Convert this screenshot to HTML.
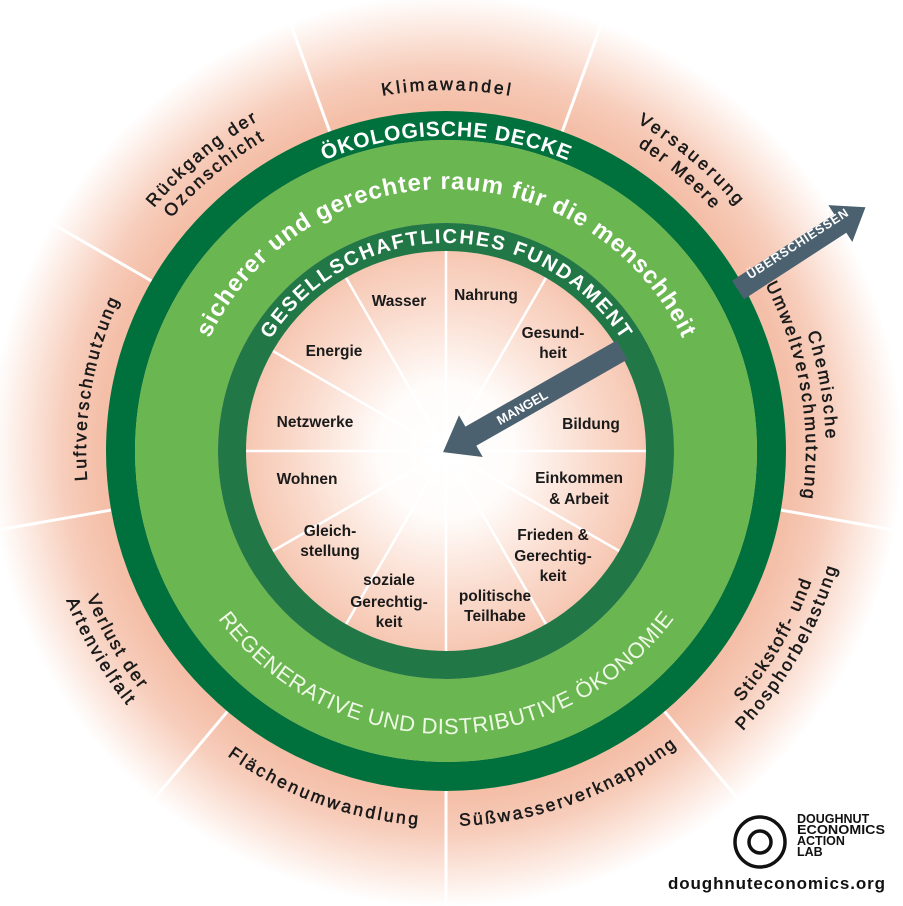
<!DOCTYPE html>
<html><head><meta charset="utf-8"><style>
html,body{margin:0;padding:0;background:#fff;}
svg{display:block;}
text{font-family:"Liberation Sans",sans-serif;}
</style></head><body>
<svg width="903" height="906" viewBox="0 0 903 906" xmlns="http://www.w3.org/2000/svg">
<defs>
<radialGradient id="bg" gradientUnits="userSpaceOnUse" cx="446" cy="451" r="485">
<stop offset="0" stop-color="#ffffff"/>
<stop offset="0.14" stop-color="#fffcfa"/>
<stop offset="0.3" stop-color="#fadbcd"/>
<stop offset="0.42" stop-color="#f6c6b1"/>
<stop offset="0.71" stop-color="#f4bea7"/>
<stop offset="0.79" stop-color="#f7cdbb"/>
<stop offset="0.87" stop-color="#fce8df"/>
<stop offset="0.94" stop-color="#ffffff"/>
</radialGradient>
<linearGradient id="sp" gradientUnits="userSpaceOnUse" x1="0" y1="111" x2="0" y2="-10">
<stop offset="0" stop-color="#fff" stop-opacity="1"/>
<stop offset="0.8" stop-color="#fff" stop-opacity="1"/>
<stop offset="1" stop-color="#fff" stop-opacity="0"/>
</linearGradient>
<path id="cw315" d="M446 766 A315 315 0 1 1 446 136 A315 315 0 1 1 446 766"/>
<path id="cw262" d="M446 713 A262 262 0 1 1 446 189 A262 262 0 1 1 446 713"/>
<path id="cw208" d="M446 659 A208 208 0 1 1 446 243 A208 208 0 1 1 446 659"/>
<path id="cw361" d="M446 812 A361 361 0 1 1 446 90 A361 361 0 1 1 446 812"/>
<path id="cw380" d="M446 831 A380 380 0 1 1 446 71 A380 380 0 1 1 446 831"/>
<path id="cw360" d="M446 811 A360 360 0 1 1 446 91 A360 360 0 1 1 446 811"/>
<path id="ccw283" d="M446 168 A283 283 0 1 0 446 734 A283 283 0 1 0 446 168"/>
<path id="ccw375" d="M446 76 A375 375 0 1 0 446 826 A375 375 0 1 0 446 76"/>
<path id="ccw388" d="M446 63 A388 388 0 1 0 446 839 A388 388 0 1 0 446 63"/>
<path id="ccw408" d="M446 43 A408 408 0 1 0 446 859 A408 408 0 1 0 446 43"/>
</defs>
<rect width="903" height="906" fill="#fff"/>
<circle cx="446" cy="451" r="485" fill="url(#bg)"/>

<!-- outer spokes -->
<g stroke="#fff" stroke-width="3">
<line x1="446" y1="111" x2="446" y2="-5" transform="rotate(20 446 451)"/>
<line x1="446" y1="111" x2="446" y2="-5" transform="rotate(60 446 451)"/>
<line x1="446" y1="111" x2="446" y2="-5" transform="rotate(100 446 451)"/>
<line x1="446" y1="111" x2="446" y2="-5" transform="rotate(140 446 451)"/>
<line x1="446" y1="111" x2="446" y2="-5" transform="rotate(180 446 451)"/>
<line x1="446" y1="111" x2="446" y2="-5" transform="rotate(220 446 451)"/>
<line x1="446" y1="111" x2="446" y2="-5" transform="rotate(260 446 451)"/>
<line x1="446" y1="111" x2="446" y2="-5" transform="rotate(300 446 451)"/>
<line x1="446" y1="111" x2="446" y2="-5" transform="rotate(340 446 451)"/>
</g>
<!-- inner spokes -->
<g stroke="#fff" stroke-width="2.5">
<line x1="446" y1="451" x2="446" y2="251" transform="rotate(0 446 451)"/>
<line x1="446" y1="451" x2="446" y2="251" transform="rotate(30 446 451)"/>
<line x1="446" y1="451" x2="446" y2="251" transform="rotate(60 446 451)"/>
<line x1="446" y1="451" x2="446" y2="251" transform="rotate(90 446 451)"/>
<line x1="446" y1="451" x2="446" y2="251" transform="rotate(120 446 451)"/>
<line x1="446" y1="451" x2="446" y2="251" transform="rotate(150 446 451)"/>
<line x1="446" y1="451" x2="446" y2="251" transform="rotate(180 446 451)"/>
<line x1="446" y1="451" x2="446" y2="251" transform="rotate(210 446 451)"/>
<line x1="446" y1="451" x2="446" y2="251" transform="rotate(240 446 451)"/>
<line x1="446" y1="451" x2="446" y2="251" transform="rotate(270 446 451)"/>
<line x1="446" y1="451" x2="446" y2="251" transform="rotate(300 446 451)"/>
<line x1="446" y1="451" x2="446" y2="251" transform="rotate(330 446 451)"/>
</g>

<!-- rings -->
<circle cx="446" cy="451" r="325.5" fill="none" stroke="#00713d" stroke-width="29"/>
<circle cx="446" cy="451" r="269.5" fill="none" stroke="#6ab650" stroke-width="83"/>
<circle cx="446" cy="451" r="214" fill="none" stroke="#217846" stroke-width="28"/>

<!-- ring texts -->
<text font-size="21" font-weight="bold" fill="#fff"><textPath href="#cw315" startOffset="50%" text-anchor="middle" textLength="250" lengthAdjust="spacing">ÖKOLOGISCHE DECKE</textPath></text>
<text font-size="24" font-weight="bold" fill="#fff"><textPath href="#cw262" startOffset="50%" text-anchor="middle" textLength="590" lengthAdjust="spacing">sicherer und gerechter raum für die menschheit</textPath></text>
<text font-size="20" font-weight="bold" fill="#fff"><textPath href="#cw208" startOffset="50%" text-anchor="middle" textLength="418" lengthAdjust="spacing">GESELLSCHAFTLICHES FUNDAMENT</textPath></text>
<text font-size="22" fill="#eef8e6"><textPath href="#ccw283" startOffset="50%" text-anchor="middle" textLength="530" lengthAdjust="spacing">REGENERATIVE UND DISTRIBUTIVE ÖKONOMIE</textPath></text>

<!-- outer labels -->
<g font-size="17.5" fill="#1a1a1a" stroke="#1a1a1a" stroke-width="0.55">
<text><textPath href="#cw361" startOffset="50%" text-anchor="middle" textLength="128" lengthAdjust="spacing">Klimawandel</textPath></text>
<text transform="rotate(-40 446 451)"><textPath href="#cw380" startOffset="50%" text-anchor="middle" textLength="136" lengthAdjust="spacing">Rückgang der</textPath></text>
<text transform="rotate(-40 446 451)"><textPath href="#cw360" startOffset="50%" text-anchor="middle" textLength="122" lengthAdjust="spacing">Ozonschicht</textPath></text>
<text transform="rotate(40 446 451)"><textPath href="#cw380" startOffset="50%" text-anchor="middle" textLength="130" lengthAdjust="spacing">Versauerung</textPath></text>
<text transform="rotate(40 446 451)"><textPath href="#cw360" startOffset="50%" text-anchor="middle" textLength="98" lengthAdjust="spacing">der Meere</textPath></text>
<text transform="rotate(80 446 451)"><textPath href="#cw380" startOffset="50%" text-anchor="middle" textLength="108" lengthAdjust="spacing">Chemische</textPath></text>
<text transform="rotate(80 446 451)"><textPath href="#cw360" startOffset="50%" text-anchor="middle" textLength="220" lengthAdjust="spacing">Umweltverschmutzung</textPath></text>
<text transform="rotate(-80 446 451)"><textPath href="#cw360" startOffset="50%" text-anchor="middle" textLength="185" lengthAdjust="spacing">Luftverschmutzung</textPath></text>
<text transform="rotate(-60 446 451)"><textPath href="#ccw388" startOffset="50%" text-anchor="middle" textLength="140" lengthAdjust="spacing">Stickstoff- und</textPath></text>
<text transform="rotate(-60 446 451)"><textPath href="#ccw408" startOffset="50%" text-anchor="middle" textLength="190" lengthAdjust="spacing">Phosphorbelastung</textPath></text>
<text transform="rotate(-20 446 451)"><textPath href="#ccw375" startOffset="50%" text-anchor="middle" textLength="235" lengthAdjust="spacing">Süßwasserverknappung</textPath></text>
<text transform="rotate(20 446 451)"><textPath href="#ccw375" startOffset="50%" text-anchor="middle" textLength="205" lengthAdjust="spacing">Flächenumwandlung</textPath></text>
<text transform="rotate(60 446 451)"><textPath href="#ccw388" startOffset="50%" text-anchor="middle" textLength="106" lengthAdjust="spacing">Verlust der</textPath></text>
<text transform="rotate(60 446 451)"><textPath href="#ccw408" startOffset="50%" text-anchor="middle" textLength="122" lengthAdjust="spacing">Artenvielfalt</textPath></text>
</g>

<!-- inner labels -->
<g font-size="15.5" font-weight="bold" fill="#1a1a1a" text-anchor="middle">
<text x="399" y="306">Wasser</text>
<text x="486" y="300">Nahrung</text>
<text x="553" y="338">Gesund-</text>
<text x="553" y="358">heit</text>
<text x="334" y="356">Energie</text>
<text x="315" y="427">Netzwerke</text>
<text x="591" y="429">Bildung</text>
<text x="307" y="484">Wohnen</text>
<text x="579" y="483">Einkommen</text>
<text x="579" y="504">&amp; Arbeit</text>
<text x="330" y="536">Gleich-</text>
<text x="330" y="556">stellung</text>
<text x="553" y="540">Frieden &amp;</text>
<text x="553" y="561">Gerechtig-</text>
<text x="553" y="581">keit</text>
<text x="389" y="585">soziale</text>
<text x="389" y="607">Gerechtig-</text>
<text x="389" y="627">keit</text>
<text x="495" y="601">politische</text>
<text x="495" y="621">Teilhabe</text>
</g>

<!-- Mangel arrow -->
<g transform="translate(622 350) rotate(150.3)">
<polygon points="0,-11 174,-11 174,-24 206,0 174,24 174,11 0,11" fill="#4b6170"/>
</g>
<text x="522" y="412" font-size="13" font-weight="bold" fill="#fff" text-anchor="middle" transform="rotate(-29.7 522 407)">MANGEL</text>

<!-- Überschiessen arrow -->
<g transform="translate(738 290) rotate(-33)">
<polygon points="0,-11 122,-11 122,-22 152,0 122,22 122,11 0,11" fill="#4b6170"/>
</g>
<text x="797" y="248" font-size="12.5" font-weight="bold" fill="#fff" text-anchor="middle" transform="rotate(-33 797 243)" textLength="118" lengthAdjust="spacing">ÜBERSCHIESSEN</text>

<!-- logo -->
<circle cx="760" cy="842" r="25" fill="none" stroke="#111" stroke-width="3.5"/>
<circle cx="760" cy="842" r="11" fill="none" stroke="#111" stroke-width="3.5"/>
<g font-size="12.5" font-weight="bold" fill="#111">
<text x="797" y="823">DOUGHNUT</text>
<text x="797" y="834" textLength="88" lengthAdjust="spacingAndGlyphs">ECONOMICS</text>
<text x="797" y="845">ACTION</text>
<text x="797" y="856">LAB</text>
</g>
<text x="668" y="889" font-size="17" font-weight="bold" fill="#111" textLength="217" lengthAdjust="spacing">doughnuteconomics.org</text>
</svg>
</body></html>
